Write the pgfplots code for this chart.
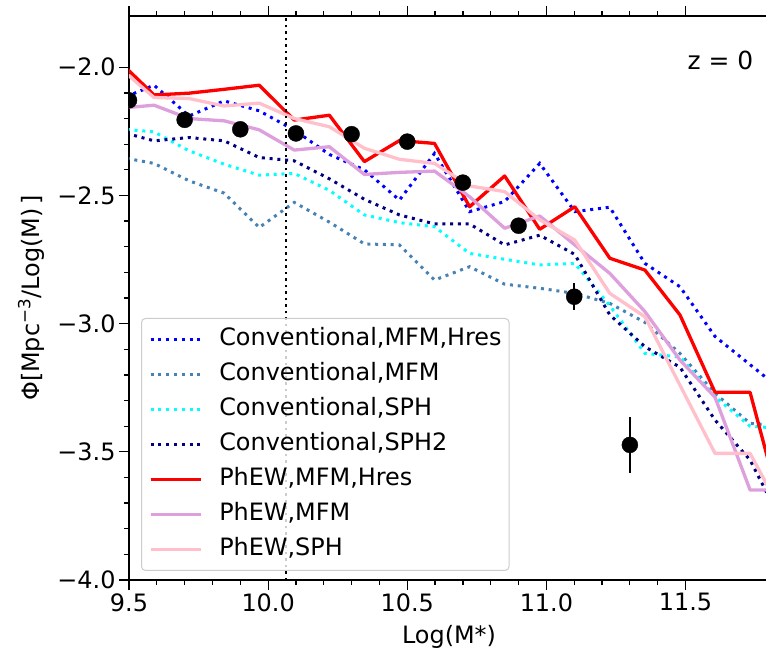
\documentclass[border=0pt]{standalone}
\usepackage{fontspec}
\setmainfont{DejaVu Sans}
\usepackage{pgfplots}
\pgfplotsset{compat=1.18}
\definecolor{cblue}{RGB}{0,0,255}
\definecolor{csteel}{RGB}{70,130,180}
\definecolor{ccyan}{RGB}{0,255,255}
\definecolor{cnavy}{RGB}{0,0,128}
\definecolor{cred}{RGB}{255,0,0}
\definecolor{cplum}{RGB}{221,160,221}
\definecolor{cpink}{RGB}{255,192,203}
\newcommand\fs{\fontsize{24}{28}\selectfont}
\begin{document}
\begin{tikzpicture}
\begin{axis}[
  scale only axis, width=640bp, height=564bp,
  xmin=9.5, xmax=11.8, ymin=-4, ymax=-1.8,
  xtick={9.5,10,10.5,11,11.5}, xticklabels={9.5,10.0,10.5,11.0,11.5},
  ytick={-4,-3.5,-3,-2.5,-2}, yticklabels={−4.0,−3.5,−3.0,−2.5,−2.0},
  minor x tick num=4, minor y tick num=4,
  tick align=outside, tick pos=both,
  xticklabel pos=lower, yticklabel pos=left,
  major tick length=10bp, minor tick length=5bp,
  every tick/.style={black, line width=1.2bp},
  axis line style={line width=1.3bp},
  ticklabel style={font=\fs},
  label style={font=\fs},
  xlabel={Log(M*)},
  ylabel={Φ[Mpc\textsuperscript{−3}/Log(M)\,]},
  xlabel style={at={(axis description cs:0.5,-0.101)}, anchor=center},
  ylabel style={at={(axis description cs:-0.153,0.5)}, anchor=center},
  clip marker paths=true,
  legend cell align=left,
  legend style={at={(axis description cs:0.01875,0.016)}, anchor=south west,
    draw=black!20, line width=1bp, rounded corners=4bp, fill=white,
    fill opacity=0.8, text opacity=1, draw opacity=1, font=\fs,
    inner xsep=7.5bp, inner ysep=10bp, row sep=13bp,
    nodes={inner sep=0pt, text height=17bp, text depth=5bp},
    /tikz/every odd column/.append style={column sep=17bp}},
  legend image code/.code={\draw[#1] (0bp,0bp) -- (50bp,0bp);},
]
\addplot[cblue, line width=3bp, dash pattern=on 3bp off 4.8bp] coordinates {
(9.464,-2.126) (9.59,-2.07) (9.716,-2.19) (9.842,-2.131) (9.968,-2.17)
(10.094,-2.245) (10.22,-2.34) (10.346,-2.40) (10.472,-2.518) (10.598,-2.336)
(10.724,-2.563) (10.85,-2.524) (10.976,-2.375) (11.102,-2.563) (11.228,-2.546)
(11.354,-2.765) (11.48,-2.856) (11.606,-3.05) (11.732,-3.16) (11.858,-3.27)};
\addlegendentry{Conventional,MFM,Hres}
\addplot[csteel, line width=3bp, dash pattern=on 3bp off 4.8bp] coordinates {
(9.464,-2.35) (9.59,-2.375) (9.716,-2.443) (9.842,-2.491) (9.968,-2.625)
(10.094,-2.527) (10.22,-2.604) (10.346,-2.689) (10.472,-2.693) (10.598,-2.830)
(10.724,-2.778) (10.85,-2.846) (10.976,-2.862) (11.102,-2.882) (11.228,-2.921)
(11.354,-2.995) (11.48,-3.116) (11.606,-3.272) (11.732,-3.389) (11.858,-3.40)};
\addlegendentry{Conventional,MFM}
\addplot[ccyan, line width=3bp, dash pattern=on 3bp off 4.8bp] coordinates {
(9.464,-2.24) (9.59,-2.252) (9.716,-2.326) (9.842,-2.378) (9.968,-2.421)
(10.094,-2.414) (10.22,-2.48) (10.346,-2.576) (10.472,-2.606) (10.598,-2.622)
(10.724,-2.726) (10.85,-2.749) (10.976,-2.771) (11.102,-2.765) (11.228,-2.93)
(11.354,-3.116) (11.48,-3.13) (11.606,-3.285) (11.732,-3.40) (11.858,-3.41)};
\addlegendentry{Conventional,SPH}
\addplot[cnavy, line width=3bp, dash pattern=on 3bp off 4.8bp] coordinates {
(9.464,-2.25) (9.59,-2.287) (9.716,-2.274) (9.842,-2.287) (9.968,-2.352)
(10.094,-2.365) (10.22,-2.435) (10.346,-2.515) (10.472,-2.576) (10.598,-2.611)
(10.724,-2.611) (10.85,-2.693) (10.976,-2.655) (11.102,-2.73) (11.228,-2.966)
(11.354,-3.09) (11.48,-3.17) (11.606,-3.376) (11.732,-3.532) (11.858,-3.80)};
\addlegendentry{Conventional,SPH2}
\addplot[cred, line width=3.3bp, line join=round] coordinates {
(9.464,-1.976) (9.59,-2.108) (9.716,-2.101) (9.842,-2.086) (9.968,-2.070)
(10.094,-2.206) (10.22,-2.187) (10.346,-2.368) (10.472,-2.286) (10.598,-2.297)
(10.724,-2.544) (10.85,-2.424) (10.976,-2.632) (11.102,-2.544) (11.228,-2.745)
(11.354,-2.791) (11.48,-2.966) (11.606,-3.268) (11.732,-3.268) (11.858,-3.78)};
\addlegendentry{PhEW,MFM,Hres}
\addplot[cplum, line width=3.3bp, line join=round] coordinates {
(9.464,-2.16) (9.59,-2.148) (9.716,-2.200) (9.842,-2.209) (9.968,-2.244)
(10.094,-2.323) (10.22,-2.310) (10.346,-2.418) (10.472,-2.41) (10.598,-2.405)
(10.724,-2.505) (10.85,-2.628) (10.976,-2.58) (11.102,-2.693) (11.228,-2.804)
(11.354,-2.953) (11.48,-3.142) (11.606,-3.287) (11.732,-3.649) (11.858,-3.649)};
\addlegendentry{PhEW,MFM}
\addplot[cpink, line width=3.3bp, line join=round] coordinates {
(9.464,-2.00) (9.59,-2.118) (9.716,-2.122) (9.842,-2.151) (9.968,-2.140)
(10.094,-2.20) (10.22,-2.232) (10.346,-2.316) (10.472,-2.359) (10.598,-2.375)
(10.724,-2.463) (10.85,-2.485) (10.976,-2.595) (11.102,-2.674) (11.228,-2.882)
(11.354,-2.973) (11.48,-3.24) (11.606,-3.506) (11.732,-3.506) (11.858,-3.76)};
\addlegendentry{PhEW,SPH}
\addplot[black, line width=2.5bp, dash pattern=on 2.5bp off 4bp, forget plot] coordinates {(10.065,-4) (10.065,-1.8)};
\addplot[black, only marks, mark=*, mark size=8bp, forget plot,
  error bars/.cd, y dir=both, y explicit, error mark=none,
  error bar style={line width=2bp, black}] coordinates {
(9.5,-2.129) +- (0,0) (9.7,-2.205) +- (0,0) (9.9,-2.242) +- (0,0)
(10.1,-2.258) +- (0,0) (10.3,-2.261) +- (0,0) (10.5,-2.290) +- (0,0)
(10.7,-2.450) +- (0,0.01) (10.9,-2.618) +- (0,0.03) (11.1,-2.895) +- (0,0.052)
(11.3,-3.473) +- (0,0.11)};
\node[anchor=east, font=\fontsize{25}{30}\selectfont] at (axis description cs:0.981,0.922) {z = 0};
\coordinate (SW) at (rel axis cs:0,0);
\coordinate (NW) at (rel axis cs:0,1);
\end{axis}
\pgfresetboundingbox
\path[use as bounding box] ([shift={(-129bp,-71bp)}]SW) rectangle ([shift={(637bp,16bp)}]NW);
\end{tikzpicture}
\end{document}
